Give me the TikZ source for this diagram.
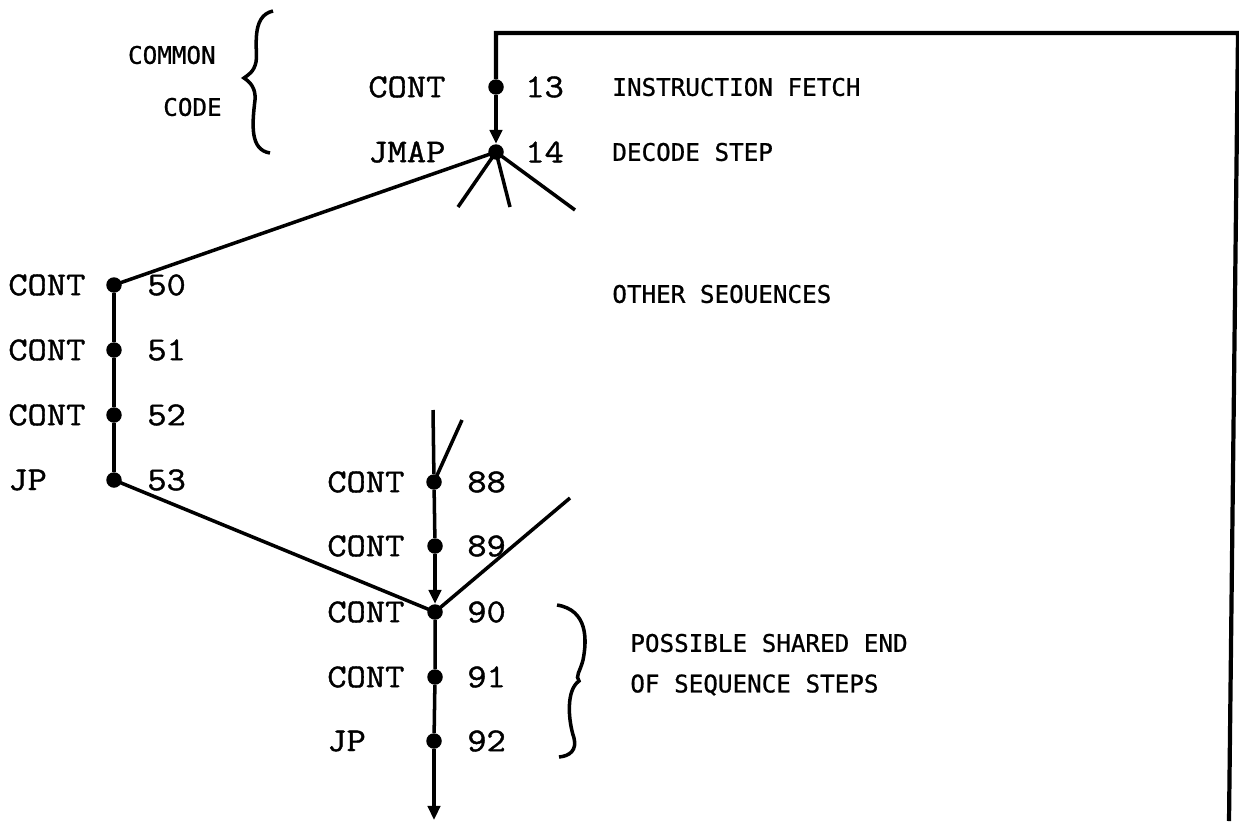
\documentclass[tikz,border=0pt]{standalone}
\usepackage{fontspec}
\newfontfamily\twfont[FakeStretch=1.12,FakeBold=1.2]{Latin Modern Mono}
\newfontfamily\lgfont[FakeBold=0.8]{DejaVu Sans Mono}
\usetikzlibrary{arrows.meta}
\begin{document}
\begin{tikzpicture}[x=0.02cm,y=-0.02cm,
  dot/.style={circle,fill=black,inner sep=0pt,minimum size=0.31cm},
  ln/.style={line width=2pt},
  frame/.style={line width=2.4pt},
  tl/.style={font=\twfont\fontsize{19}{21}\selectfont,anchor=west,inner sep=0pt},
  ann/.style={font=\lgfont\fontsize{13.8}{16}\selectfont,anchor=west,inner sep=0pt},
  arr/.style={-{Triangle[length=8pt,width=7pt]}}
]
\useasboundingbox (0,0) rectangle (1239,821);

% dots
\node[dot] (n13) at (496,87) {};
\node[dot] (n14) at (496,152) {};
\node[dot] (n50) at (114,285) {};
\node[dot] (n51) at (114,350) {};
\node[dot] (n52) at (114,415) {};
\node[dot] (n53) at (114,480) {};
\node[dot] (n88) at (434,482) {};
\node[dot] (n89) at (435,546) {};
\node[dot] (n90) at (435,612) {};
\node[dot] (n91) at (435,677) {};
\node[dot] (n92) at (434,741) {};

% free ends
\coordinate (c1) at (496,33);
\coordinate (c2) at (1238,33);
\coordinate (c3) at (1229,821);
\coordinate (f1) at (458,207);
\coordinate (f2) at (510,207);
\coordinate (f3) at (575,210);
\coordinate (t88) at (433,410);
\coordinate (s88) at (462,420);
\coordinate (s90) at (570,498);
\coordinate (bot) at (434,820);

% frame
\draw[frame] (n13) -- (c1) -- (c2) -- (c3);

% connectors
\draw[ln,arr] (n13) -- (n14);
\draw[ln] (n14.center) -- (f1);
\draw[ln] (n14.center) -- (f2);
\draw[ln] (n14.center) -- (f3);
\draw[ln] (n14.center) -- (n50.center);
\draw[ln] (n50) -- (n51) -- (n52) -- (n53);
\draw[ln] (n53.center) -- (n90.center);
\draw[ln] (t88) -- (n88);
\draw[ln] (n88.center) -- (s88);
\draw[ln] (n88) -- (n89);
\draw[ln,arr] (n89) -- (n90);
\draw[ln] (n90.center) -- (s90);
\draw[ln] (n90) -- (n91) -- (n92);
\draw[ln,arr] (n92) -- (bot);

% typewriter labels
\node[tl] (l13) at (368,87) {CONT};
\node[tl] (l14) at (368,152) {JMAP};
\node[tl] (k13) at (525,87) {13};
\node[tl] (k14) at (525,152) {14};
\node[tl] (l50) at (8,285) {CONT};
\node[tl] (l51) at (8,350) {CONT};
\node[tl] (l52) at (8,415) {CONT};
\node[tl] (l53) at (8,480) {JP};
\node[tl] (k50) at (147,285) {50};
\node[tl] (k51) at (147,350) {51};
\node[tl] (k52) at (147,415) {52};
\node[tl] (k53) at (147,480) {53};
\node[tl] (l88) at (327,482) {CONT};
\node[tl] (l89) at (327,546) {CONT};
\node[tl] (l90) at (327,612) {CONT};
\node[tl] (l91) at (327,677) {CONT};
\node[tl] (l92) at (327,741) {JP};
\node[tl] (k88) at (467,482) {88};
\node[tl] (k89) at (467,546) {89};
\node[tl] (k90) at (467,612) {90};
\node[tl] (k91) at (467,677) {91};
\node[tl] (k92) at (467,741) {92};

% annotations
\node[ann] (a1) at (612,87) {INSTRUCTION FETCH};
\node[ann] (a2) at (612,152) {DECODE STEP};
\node[ann] (a3) at (612,294) {OTHER SEOUENCES};
\node[ann] (a4) at (630,643) {POSSIBLE SHARED END};
\node[ann] (a5) at (630,685) {OF SEQUENCE STEPS};
\node[ann,anchor=east] (a6) at (216,55) {COMMON};
\node[ann,anchor=east] (a7) at (222,107) {CODE};

% braces
\draw[ln] (273,11) .. controls (250,16) and (258,50) .. (256,62)
  .. controls (254,72) and (248,75) .. (244,78)
  .. controls (250,82) and (256,88) .. (255,100)
  .. controls (252,125) and (250,150) .. (270,153);
\draw[ln] (557,605) .. controls (588,610) and (587,640) .. (583,660)
  .. controls (580,672) and (575,676) .. (579,681)
  .. controls (566,690) and (568,720) .. (574,738)
  .. controls (577,750) and (570,756) .. (559,757);
\end{tikzpicture}
\end{document}
